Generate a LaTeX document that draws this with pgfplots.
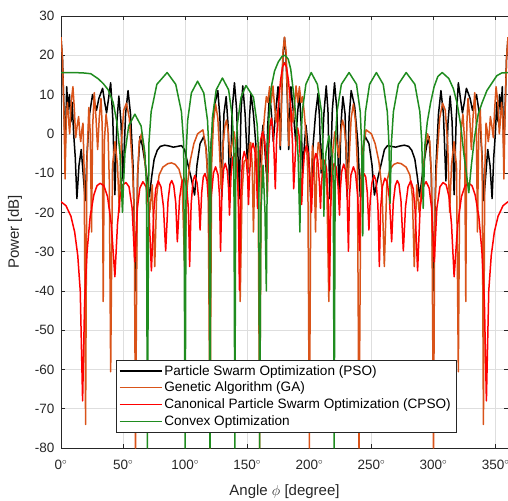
\documentclass[border=0pt]{standalone}
\usepackage{fontspec}
\setmainfont{Liberation Sans}
\usepackage{pgfplots}
\pgfplotsset{compat=1.18}
\definecolor{gaorange}{rgb}{0.85,0.325,0.098}
\definecolor{cvxgreen}{rgb}{0.12,0.55,0.12}
\definecolor{axgray}{rgb}{0.15,0.15,0.15}
\definecolor{gridgray}{rgb}{0.87,0.87,0.87}
\begin{document}
\begin{tikzpicture}
\useasboundingbox (-61pt,-52pt) rectangle (447pt,448pt);
\begin{axis}[
 at={(0pt,0pt)}, anchor=south west,
 scale only axis, width=447pt, height=432pt,
 xmin=0, xmax=360, ymin=-80, ymax=30,
 xtick={0,50,...,350}, ytick={-80,-70,...,30},
 xticklabel={\pgfmathprintnumber{\tick}$^{\circ}$},
 /pgf/number format/assume math mode=true,
 grid=major, major grid style={gridgray, line width=0.5pt},
 axis line style={axgray, line width=0.6pt},
 tick style={axgray, line width=0.6pt}, major tick length=4pt, tick align=inside,
 ticklabel style={font=\fontsize{13.5}{15}\selectfont, text=axgray},
 xticklabel style={yshift=-9pt},
 yticklabel style={xshift=-3pt},
 xlabel={Angle $\phi$ [degree]}, ylabel={Power [dB]},
 label style={font=\fontsize{15}{18}\selectfont, text=axgray},
 xlabel style={at={(axis description cs:0.5,-0.1088)}, anchor=base},
 ylabel style={at={(axis description cs:-0.103,0.5)}, anchor=center},
 legend style={at={(axis cs:44,-76)}, anchor=south west, draw=axgray, fill=white,
   font=\fontsize{13.6}{16}\selectfont, inner xsep=3pt, inner ysep=3pt, row sep=1.5pt, cells={anchor=west}},
 legend image code/.code={\draw[#1, line width=1.5pt] (0pt,0pt) -- (42pt,0pt);},
 every axis plot/.append style={line join=round, line width=1.5pt},
]
\addplot[black] coordinates {
(0,24.5) (1.2,19) (2.4,6) (3.4,-4) (4.6,12) (5.6,6) (6.8,10) (8,3) (9,8) (10.2,0) (11.5,-6) (12.8,-16.5) (14.5,-8) (16.3,-4) (17.8,-10) (19.5,-17) (21,-5) (23,5) (25.4,10) (27,8) (28.6,6) (30.5,9) (33.5,11.6) (35.2,8) (36.7,5.3) (38.3,9) (40,13) (41.7,4) (43.4,-15.5) (45,3) (46.6,9.6) (48.3,3) (50,-12) (52,5) (54,11) (56,5) (58,-8) (60.2,-40) (61.8,-10) (63.6,-0.7) (65.5,-3) (68,-8) (71.2,-16) (73,-11) (75,-6.5) (77.5,-4.2) (80,-3.2) (83.5,-2.9) (87,-3.1) (90.5,-3.4) (94,-3.2) (97,-3.0) (99.5,-4) (102,-7.5) (105,-11.5) (107.6,-15.6) (109.5,-8) (112,-2.5) (115,-0.7) (117,-4) (119,-16) (121,-2) (123.5,7) (126.3,11) (128,4) (129.5,-16) (131.2,5) (133,9.5) (134.6,2) (136,-17.5) (137.8,6) (139.7,13) (141.5,6) (143.5,-16.5) (145,6) (146.4,12.2) (148.3,5) (150.5,-10) (151.8,4) (153,10.3) (155,5) (157,-3) (158.7,-17) (160.8,-4) (162.7,2.2) (164,-3) (165.4,-10) (166.5,2) (168,10.7) (169.5,5) (171,-2) (173,6) (174.8,12) (175.8,5) (176.6,-4) (177.6,8) (178.8,20) (180,24.5)
(181.2,20) (182.4,8) (183.4,-4) (184.2,5) (185.2,12) (187,6) (189,-2) (190.5,5) (192,10.7) (193.5,2) (194.6,-10) (196,-3) (197.3,2.2) (199.2,-4) (201.3,-17) (203,-3) (205,5) (207,10.3) (208.2,4) (209.5,-10) (211.7,5) (213.6,12.2) (215,6) (216.5,-16.5) (218.5,6) (220.3,13) (222.2,6) (224,-17.5) (225.4,2) (227,9.5) (228.8,5) (230.5,-16) (232,4) (233.7,11) (236.5,7) (239,-2) (241,-16) (243,-4) (245,-0.7) (248,-2.5) (250.5,-8) (252.4,-15.6) (255,-11.5) (258,-7.5) (260.5,-4) (263,-3.0) (266,-3.2) (269.5,-3.4) (273,-3.1) (276.5,-2.9) (280,-3.2) (282.5,-4.2) (285,-6.5) (287,-11) (288.8,-16) (292,-8) (294.5,-3) (296.4,-0.7) (298.2,-10) (299.8,-40) (302,-8) (304,5) (306,11) (308,5) (310,-12) (311.7,3) (313.4,9.6) (315,3) (316.6,-15.5) (318.3,4) (320,13) (321.7,9) (323.3,5.3) (324.8,8) (326.5,11.6) (329.5,9) (331.4,6) (333,8) (334.6,10) (337,5) (339,-5) (340.5,-17) (342.2,-10) (343.7,-4) (345.5,-8) (347.2,-16.5) (348.5,-6) (349.8,0) (351,8) (352,3) (353.2,10) (354.4,6) (355.4,12) (356.6,-4) (357.6,6) (358.8,19) (360,24.5)
};
\addlegendentry{Particle Swarm Optimization (PSO)}
\addplot[gaorange] coordinates {
(0,24.6) (1.2,19) (2.4,5) (3.3,-11.5) (4.2,4) (5.2,8) (6.2,3) (7,0) (8.2,8) (9.6,12) (10.8,6) (11.8,-1) (13,2) (14.2,4.4) (15.1,0) (15.9,-2) (16.8,1) (17.7,2.7) (18.7,-10) (19.8,-74) (20.8,-8) (22.4,6.7) (23.6,0) (24.6,-25) (25.5,2) (26.8,10.5) (28.2,4) (29.5,-4) (30.8,4) (32.2,9) (33.2,2) (34,-42.7) (34.9,-2) (36.3,5) (37.8,1) (38.9,-12) (40,-60.6) (41.5,-8) (43.5,-2) (45.5,-8) (47,-20) (48.5,-3) (50.5,6) (52.7,7.8) (55,4) (57.5,-8) (59,-20) (60,-80) (61.5,-12) (63,-2) (64.8,0) (66.5,-3) (69,-12) (71.5,-20) (73.5,-13) (75.5,-33.8) (77,-16) (79,-10.5) (82,-8.5) (86,-7.6) (89,-7.4) (92,-7.8) (95,-9) (97.5,-12) (99.6,-33.8) (101.5,-14) (104,-7) (107,-2.5) (110,0) (114.3,1) (116.5,-3) (118.5,-12) (120,-80) (121.3,-8) (122.8,3) (124.5,7.6) (126.3,4) (127.6,-4) (129,-14) (130.5,-3) (132,2) (133.3,3.5) (134.8,0) (136.3,-6) (138,-2) (139.5,0.5) (141,-4) (142.8,-15) (144.3,-42.7) (145.8,-15) (147.5,-7) (149.4,-6.5) (150.5,-9) (151.8,-3) (152.8,-2.2) (154,-8) (155,-25) (156.3,-6) (157.5,-3) (158.8,-15) (160,-80) (161.2,-10) (162.5,-1) (164,5) (165.4,9.5) (166.7,8) (168,12) (169.3,8) (170.7,12.2) (172,7) (173.3,3) (174.6,6) (175.6,3) (176.6,-3) (177.6,9) (178.8,21) (180,24.6)
(181.2,21) (182.4,9) (183.4,-3) (184.4,3) (185.4,6) (186.7,3) (188,7) (189.3,12.2) (190.7,8) (192,12) (193.3,8) (194.6,9.5) (196,5) (197.5,-1) (198.8,-10) (200,-80) (201.2,-15) (202.5,-3) (203.7,-6) (205,-25) (206,-8) (207.2,-2.2) (208.2,-3) (209.5,-9) (210.6,-6.5) (212.5,-7) (214.2,-15) (215.7,-42.7) (217.2,-15) (219,-4) (220.5,0.5) (222,-2) (223.7,-6) (225.2,0) (226.7,3.5) (228,2) (229.5,-3) (231,-14) (232.4,-4) (233.7,4) (235.5,7.6) (237.2,3) (238.7,-8) (240,-80) (241.5,-12) (243.5,-3) (245.7,1) (250,0) (253,-2.5) (256,-7) (258.5,-14) (260.4,-33.8) (262.5,-12) (265,-9) (268,-7.8) (271,-7.4) (274,-7.6) (278,-8.5) (281,-10.5) (283,-16) (284.5,-33.8) (286.5,-13) (288.5,-20) (291,-12) (293.5,-3) (295.2,0) (297,-2) (298.5,-12) (300,-80) (301,-20) (302.5,-8) (305,4) (307.3,7.8) (309.5,6) (311.5,-3) (313,-20) (314.5,-8) (316.5,-2) (318.5,-8) (320,-60.6) (321.1,-12) (322.2,1) (323.7,5) (325.1,-2) (326,-42.7) (326.8,2) (327.8,9) (329.2,4) (330.5,-4) (331.8,4) (333.2,10.5) (334.5,2) (335.4,-25) (336.4,0) (337.6,6.7) (339.2,-8) (340.2,-74) (341.3,-10) (342.3,2.7) (343.2,1) (344.1,-2) (344.9,0) (345.8,4.4) (347,2) (348.2,-1) (349.2,6) (350.4,12) (351.8,8) (353,0) (353.8,3) (354.8,8) (355.8,4) (356.7,-11.5) (357.6,5) (358.8,19) (360,24.6)
};
\addlegendentry{Genetic Algorithm (GA)}
\addplot[red] coordinates {
(0,-17.3) (4,-18.3) (8,-21) (11,-25) (13.5,-31) (15.5,-40) (17.4,-68) (19,-43) (21,-30) (23.5,-21) (26.5,-15.5) (29,-13.2) (31.5,-12.6) (34.5,-13.2) (37.5,-16) (40.5,-23) (43.4,-36.4) (45.5,-23) (47.5,-16) (49.8,-13) (52.3,-12.4) (54.8,-13.5) (57.3,-19) (59.4,-32.6) (61.5,-19) (63.5,-13.8) (66,-12.2) (68.5,-13.5) (70.8,-19) (72.8,-34.9) (74.8,-19.5) (76.3,-14) (78.3,-12) (80.5,-13.5) (82.5,-18.5) (84.3,-29.8) (86.2,-17) (87.8,-12.8) (89.2,-11.9) (90.8,-13.2) (92.4,-17.5) (93.7,-27.5) (95.5,-16.5) (97.3,-12.3) (99.2,-11.3) (101.2,-13.5) (102.6,-19) (103.6,-33.8) (104.8,-18) (106.3,-12) (107.8,-10.6) (109.6,-12.5) (111,-17) (112,-24.5) (113.3,-15) (114.6,-11) (116,-10.1) (117.6,-12) (118.8,-17) (119.6,-29.7) (121,-16) (122.8,-10) (124.5,-8.4) (126.5,-10.5) (127.7,-16) (128.5,-29.9) (129.6,-15) (131,-9) (132.3,-7.5) (134,-9.5) (135,-14) (135.7,-20.7) (136.8,-11) (138.4,-6) (140,-5) (141.7,-8) (142.9,-17) (143.7,-39.8) (144.8,-15) (146.2,-6.5) (147.6,-4.5) (149.2,-6.5) (150.3,-11) (151,-18) (151.9,-10) (153.2,-4) (154.7,-2.4) (156.2,-4.5) (157.4,-10) (158.3,-19) (159.3,-9) (160.8,-1.5) (162.4,0.5) (164,-1.5) (165.2,-7) (166.2,-16) (167.2,-4) (168.3,2) (169.4,4) (170.6,1.5) (171.6,-5) (172.6,-14) (173.6,-2) (175,7) (176.8,13.5) (178.4,17) (180,18.1)
(181.6,17) (183.2,13.5) (185,7) (186.4,-2) (187.4,-14) (188.4,-7.5) (189.4,-1) (190.6,1.5) (191.7,-0.5) (192.8,-6.5) (193.8,-18) (194.8,-10.5) (196,-5) (197.6,-3) (199.2,-5) (200.7,-12.5) (201.7,-20) (202.6,-12.6) (203.8,-7.1) (205.3,-5) (206.8,-6.6) (208.1,-12.6) (209,-19) (209.7,-13.2) (210.8,-8.7) (212.4,-6.7) (213.8,-8.7) (215.2,-17) (216.3,-39.8) (217.1,-19.5) (218.3,-10.5) (220,-7.5) (221.6,-8.5) (223.2,-13.5) (224.3,-20.7) (225,-14) (226,-9.7) (227.7,-7.7) (229,-9.2) (230.4,-15) (231.5,-29.9) (232.3,-16) (233.5,-10.5) (235.5,-8.4) (237.2,-10) (239,-16) (240.4,-29.7) (241.2,-17) (242.4,-12) (244,-10.1) (245.4,-11) (246.7,-15) (248,-24.5) (249,-17) (250.4,-12.5) (252.2,-10.6) (253.7,-12) (255.2,-18) (256.4,-33.8) (257.4,-19) (258.8,-13.5) (260.8,-11.3) (262.7,-12.3) (264.5,-16.5) (266.3,-27.5) (267.6,-17.5) (269.2,-13.2) (270.8,-11.9) (272.2,-12.8) (273.8,-17) (275.7,-29.8) (277.5,-18.5) (279.5,-13.5) (281.7,-12) (283.7,-14) (285.2,-19.5) (287.2,-34.9) (289.2,-19) (291.5,-13.5) (294,-12.2) (296.5,-13.8) (298.5,-19) (300.6,-32.6) (302.7,-19) (305.2,-13.5) (307.7,-12.4) (310.2,-13) (312.5,-16) (314.5,-23) (316.6,-36.4) (319.5,-23) (322.5,-16) (325.5,-13.2) (328.5,-12.6) (331,-13.2) (333.5,-15.5) (336.5,-21) (339,-30) (341,-43) (342.6,-68) (344.5,-40) (346.5,-31) (349,-25) (352,-21) (356,-18.3) (360,-17.3)
};
\addlegendentry{Canonical Particle Swarm Optimization (CPSO)}
\addplot[cvxgreen] coordinates {
(0,15.6) (10,15.6) (18,15.5) (24,15.3) (30,14) (34,12.8) (38,11.2) (42,8) (45,3) (47.5,-5) (49.5,-20) (50.3,-13) (51.5,-5) (54.5,2) (59.5,5) (64.5,2) (67.6,-5) (68.8,-13) (69.6,-80) (70.8,-2.4) (72.6,5.6) (77.2,12.6) (85.5,15.6) (92.4,12.6) (97,5.6) (98.8,-2.4) (100,-80) (100.8,-4.6) (102,3.4) (105,10.4) (110,13.4) (115,10.4) (118,3.4) (119.2,-4.6) (120,-80) (120.8,-3.8) (122,4.2) (125,11.2) (130,14.2) (135,11.2) (138,4.2) (139.2,-3.8) (140,-80) (140.8,-5.7) (142,2.3) (145,9.3) (149,12.3) (155,9.3) (158,2.3) (159.2,-5.7) (160,-80) (161,-20) (162.7,-8) (164.3,-20) (165.4,-40) (166.2,-5) (167.5,4) (169.4,12) (172,16) (175,18.3) (178,19.7) (180.5,20) (183,19) (185,16.5) (187.6,9.5) (189.5,3) (191,-6) (192.4,-25) (193.2,-2.4) (194.3,5.6) (197.2,12.6) (201.5,15.6) (206.5,12.6) (209.8,5.6) (210.9,-2.4) (211.7,-21) (212.3,-12) (213.3,-5) (215.8,-0.5) (218.2,-5) (219.3,-12) (220,-80) (220.9,-2.4) (222.3,5.6) (225.8,12.6) (232,15.6) (238,12.6) (241,5.6) (242.1,-2.4) (243,-26) (243.9,-2.4) (245.2,5.6) (248.5,12.6) (254,15.6) (259.5,12.6) (262.8,5.6) (264.1,-2.4) (265,-17.7) (266.1,-2.4) (267.7,5.6) (271.7,12.6) (278,15.6) (285,12.6) (289,5.6) (290.6,-2.4) (291.7,-19) (293,-3) (295,3) (297.6,7.8) (300.5,12) (303.5,14.6) (307,15.6) (312.3,14.1) (316,11.5) (319,7.8) (322,2) (324.4,-5) (326.5,-10) (328.4,-15) (330.5,-8) (333,-1) (336,5) (339,7.8) (343,11) (347,12.9) (351,14.8) (355,15.5) (360,15.6)
};
\addlegendentry{Convex Optimization}
\end{axis}
\end{tikzpicture}
\end{document}
